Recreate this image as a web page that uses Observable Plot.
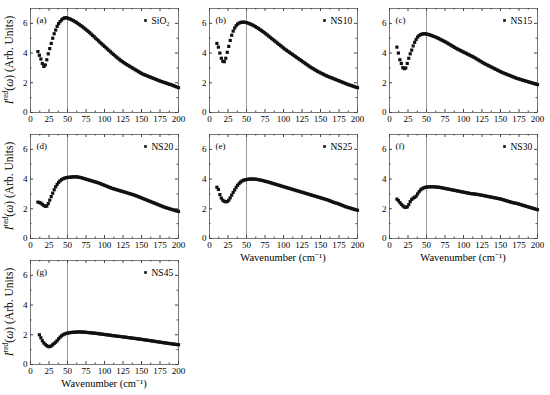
<!DOCTYPE html>
<html>
<head>
<meta charset="utf-8">
<script src="https://cdn.jsdelivr.net/npm/d3@7"></script>
<script src="https://cdn.jsdelivr.net/npm/@observablehq/plot@0.6"></script>
<style>
  html, body { margin: 0; padding: 0; background: #fff; }
  #wrap { position: relative; width: 550px; height: 395px; overflow: hidden; background: #fff; }
  .pan { position: absolute; }
</style>
</head>
<body>
<div id="wrap"></div>
<script>
// Wavenumber sampling (cm^-1)
const wavenumber = [10,12,14,16,18,20,22,24,26,28,30,32,34,36,38,40,42,44,46,48,50,52,54,56,58,60,62,64,66,68,70,72,74,76,78,80,82,84,86,88,90,92,94,96,98,100,102,104,106,108,110,112,114,116,118,120,122,124,126,128,130,132,134,136,138,140,142,144,146,148,150,152,154,156,158,160,162,164,166,168,170,172,174,176,178,180,182,184,186,188,190,192,194,196,198,200];

const sio2 = [4.1,3.85,3.6,3.3,3.1,3.2,3.55,3.95,4.3,4.65,5.0,5.3,5.55,5.8,5.98,6.12,6.23,6.32,6.37,6.38,6.36,6.32,6.28,6.23,6.18,6.12,6.06,5.99,5.92,5.85,5.78,5.7,5.62,5.54,5.46,5.37,5.28,5.19,5.1,5.0,4.91,4.82,4.72,4.63,4.54,4.45,4.36,4.27,4.18,4.09,4.0,3.91,3.83,3.74,3.66,3.58,3.5,3.43,3.36,3.29,3.23,3.17,3.11,3.05,2.99,2.93,2.87,2.81,2.75,2.69,2.63,2.58,2.54,2.5,2.46,2.42,2.38,2.34,2.3,2.26,2.22,2.18,2.14,2.1,2.07,2.03,2.0,1.97,1.93,1.9,1.87,1.83,1.79,1.75,1.71,1.67];
const ns10 = [4.65,4.4,4.0,3.65,3.45,3.42,3.65,4.05,4.45,4.85,5.2,5.48,5.68,5.84,5.95,6.02,6.06,6.08,6.08,6.07,6.05,6.02,5.98,5.94,5.89,5.84,5.78,5.72,5.66,5.59,5.52,5.45,5.38,5.3,5.22,5.14,5.06,4.98,4.9,4.82,4.74,4.66,4.58,4.5,4.42,4.34,4.26,4.19,4.12,4.05,3.98,3.91,3.84,3.77,3.7,3.63,3.56,3.49,3.42,3.35,3.28,3.21,3.14,3.07,3.01,2.95,2.89,2.83,2.77,2.72,2.67,2.62,2.57,2.52,2.47,2.43,2.39,2.35,2.31,2.27,2.23,2.19,2.15,2.11,2.07,2.03,1.99,1.95,1.91,1.87,1.84,1.81,1.77,1.74,1.7,1.67];
const ns15 = [4.4,4.0,3.55,3.3,3.02,2.95,3.0,3.3,3.65,3.95,4.2,4.48,4.72,4.92,5.08,5.18,5.24,5.28,5.3,5.3,5.28,5.26,5.23,5.2,5.16,5.12,5.08,5.04,4.99,4.94,4.89,4.84,4.79,4.74,4.68,4.62,4.56,4.5,4.44,4.38,4.32,4.27,4.22,4.17,4.12,4.07,4.02,3.97,3.92,3.87,3.82,3.77,3.72,3.66,3.6,3.54,3.48,3.42,3.36,3.3,3.25,3.2,3.15,3.1,3.05,3.0,2.95,2.9,2.85,2.8,2.75,2.7,2.66,2.62,2.58,2.54,2.5,2.46,2.42,2.38,2.34,2.3,2.27,2.24,2.21,2.18,2.15,2.12,2.09,2.06,2.03,2.0,1.97,1.94,1.91,1.88];
const ns20 = [2.45,2.42,2.38,2.3,2.22,2.17,2.18,2.35,2.58,2.82,3.05,3.28,3.48,3.64,3.78,3.88,3.96,4.02,4.06,4.09,4.11,4.12,4.13,4.14,4.15,4.15,4.15,4.14,4.12,4.1,4.07,4.04,4.01,3.98,3.95,3.92,3.89,3.86,3.83,3.8,3.77,3.74,3.7,3.66,3.62,3.58,3.54,3.5,3.46,3.42,3.38,3.35,3.32,3.29,3.26,3.23,3.2,3.17,3.14,3.11,3.08,3.05,3.02,2.99,2.96,2.93,2.89,2.85,2.81,2.77,2.73,2.69,2.65,2.61,2.57,2.53,2.49,2.45,2.41,2.37,2.33,2.29,2.25,2.21,2.17,2.13,2.09,2.06,2.03,2.0,1.97,1.94,1.91,1.88,1.85,1.82];
const ns25 = [3.45,3.3,2.95,2.72,2.57,2.5,2.47,2.49,2.58,2.74,2.92,3.1,3.27,3.44,3.58,3.7,3.8,3.87,3.92,3.95,3.97,3.99,4.0,4.0,4.0,4.0,3.99,3.98,3.96,3.94,3.92,3.9,3.87,3.84,3.82,3.79,3.76,3.73,3.7,3.67,3.64,3.61,3.58,3.55,3.52,3.49,3.46,3.43,3.4,3.37,3.34,3.31,3.28,3.25,3.22,3.19,3.16,3.13,3.1,3.07,3.04,3.01,2.98,2.95,2.92,2.89,2.86,2.83,2.8,2.77,2.74,2.71,2.68,2.65,2.62,2.59,2.55,2.51,2.47,2.43,2.4,2.37,2.34,2.3,2.26,2.22,2.18,2.14,2.11,2.08,2.05,2.02,1.99,1.96,1.93,1.9];
const ns30 = [2.65,2.55,2.42,2.3,2.2,2.12,2.09,2.13,2.28,2.48,2.63,2.72,2.77,2.85,3.0,3.15,3.27,3.35,3.4,3.44,3.46,3.47,3.48,3.48,3.48,3.48,3.47,3.46,3.45,3.44,3.42,3.4,3.38,3.36,3.34,3.32,3.3,3.28,3.26,3.24,3.22,3.2,3.18,3.16,3.14,3.12,3.1,3.08,3.06,3.04,3.02,3.01,3.0,2.99,2.97,2.96,2.94,2.92,2.9,2.88,2.86,2.84,2.82,2.8,2.78,2.76,2.74,2.72,2.7,2.68,2.66,2.63,2.6,2.57,2.54,2.51,2.48,2.45,2.42,2.4,2.38,2.36,2.33,2.3,2.27,2.24,2.21,2.18,2.15,2.12,2.09,2.06,2.03,2.0,1.97,1.94];
const ns45 = [null,2.0,1.8,1.6,1.45,1.35,1.27,1.21,1.2,1.25,1.33,1.42,1.5,1.6,1.73,1.84,1.93,2.0,2.05,2.09,2.11,2.13,2.15,2.16,2.17,2.18,2.18,2.19,2.19,2.19,2.18,2.18,2.17,2.16,2.15,2.14,2.13,2.12,2.11,2.1,2.09,2.07,2.06,2.05,2.03,2.02,2.01,1.99,1.98,1.97,1.95,1.94,1.93,1.91,1.9,1.89,1.88,1.87,1.85,1.84,1.83,1.81,1.8,1.79,1.77,1.76,1.75,1.73,1.72,1.71,1.69,1.68,1.66,1.65,1.63,1.62,1.6,1.59,1.57,1.56,1.54,1.53,1.51,1.5,1.48,1.47,1.45,1.44,1.42,1.41,1.4,1.38,1.37,1.36,1.34,1.33];

const panelLetters = ["(a)","(b)","(c)","(d)","(e)","(f)","(g)"];
const sampleNames = ["SiO₂","NS10","NS15","NS20","NS25","NS30","NS45"];
const seriesList = [sio2, ns10, ns15, ns20, ns25, ns30, ns45];

const xTicks = [0,25,50,75,100,125,150,175,200];
const xMinor = [12.5,37.5,62.5,87.5,112.5,137.5,162.5,187.5];
const yTicks = [0,2,4,6];
const yMinor = [1,3,5];
const markerLine = [50];

// layout: frame left/top of each panel (page pixels)
const frameLefts = [29.5, 209, 389, 29.5, 209, 389, 29.5];
const frameTops  = [8, 8, 8, 134, 134, 134, 260];
const showYLabel = [true,false,false,true,false,false,true];
const showXLabel = [false,false,false,false,true,true,true];

const ML = 30, MR = 10, MT = 8, MB = 26, PW = 148, PH = 104;
const FONT = "'Liberation Serif', 'Times New Roman', serif";

const wrap = document.getElementById("wrap");

seriesList.forEach((vals, i) => {
  const data = wavenumber.map((x, j) => ({x, y: vals[j]})).filter(d => d.y != null);
  const chart = Plot.plot({
    width: ML + PW + MR,
    height: MT + PH + MB,
    marginLeft: ML, marginRight: MR, marginTop: MT, marginBottom: MB,
    style: {fontFamily: FONT, fontSize: "9px", background: "transparent", color: "#000"},
    x: {domain: [0, 200], ticks: xTicks, tickSize: 0, tickPadding: 3, label: null, tickFormat: d => String(d)},
    y: {domain: [0, 7], ticks: yTicks, tickSize: 0, tickPadding: 3, label: null, tickFormat: d => String(d)},
    marks: [
      Plot.ruleX(markerLine, {x: d => d, stroke: "#999", strokeWidth: 1}),
      Plot.frame({stroke: "#777", strokeWidth: 1}),
      // inward ticks
      Plot.ruleX(xTicks, {x: d => d, insetTop: PH - 3, stroke: "#444"}),
      Plot.ruleX(xTicks, {x: d => d, insetBottom: PH - 3, stroke: "#444"}),
      Plot.ruleX(xMinor, {x: d => d, insetTop: PH - 1.5, stroke: "#444"}),
      Plot.ruleX(xMinor, {x: d => d, insetBottom: PH - 1.5, stroke: "#444"}),
      Plot.ruleY(yTicks, {y: d => d, insetRight: PW - 3, stroke: "#444"}),
      Plot.ruleY(yTicks, {y: d => d, insetLeft: PW - 3, stroke: "#444"}),
      Plot.ruleY(yMinor, {y: d => d, insetRight: PW - 1.5, stroke: "#444"}),
      Plot.ruleY(yMinor, {y: d => d, insetLeft: PW - 1.5, stroke: "#444"}),
      // data
      Plot.dot(data, {x: "x", y: "y", symbol: "square", r: 1.8, fill: "#111"}),
      // panel letter
      Plot.text([panelLetters[i]], {frameAnchor: "top-left", dx: 6, dy: 12, text: d => d, textAnchor: "start", lineAnchor: "middle", fontSize: 9}),
      // legend
      Plot.dot([sampleNames[i]], {frameAnchor: "top-right", dx: -33, dy: 12, symbol: "square", r: 1.5, fill: "#111"}),
      Plot.text([sampleNames[i]], {frameAnchor: "top-right", dx: -27, dy: 12, text: d => d, textAnchor: "start", lineAnchor: "middle", fontSize: 9.5})
    ]
  });
  const svg = d3.select(chart);
  if (showYLabel[i]) {
    const t = svg.append("text")
      .attr("transform", `translate(12.5,${MT + PH / 2}) rotate(-90)`)
      .attr("text-anchor", "middle")
      .attr("font-family", FONT)
      .attr("font-size", 11.5)
      .attr("fill", "#000");
    t.append("tspan").attr("font-style", "italic").text("I");
    t.append("tspan").attr("font-style", "italic").attr("font-size", 7.5).attr("dy", -4.5).text("red");
    t.append("tspan").attr("dy", 4.5).text("(");
    t.append("tspan").attr("font-style", "italic").text("ω");
    t.append("tspan").text(") (Arb. Units)");
  }
  if (showXLabel[i]) {
    svg.append("text")
      .attr("x", ML + PW / 2)
      .attr("y", MT + PH + 23)
      .attr("text-anchor", "middle")
      .attr("font-family", FONT)
      .attr("font-size", 10.5)
      .attr("fill", "#000")
      .text("Wavenumber (cm⁻¹)");
  }
  const div = document.createElement("div");
  div.className = "pan";
  div.style.left = (frameLefts[i] - ML) + "px";
  div.style.top = (frameTops[i] - MT) + "px";
  div.appendChild(chart);
  wrap.appendChild(div);
});
</script>
</body>
</html>
